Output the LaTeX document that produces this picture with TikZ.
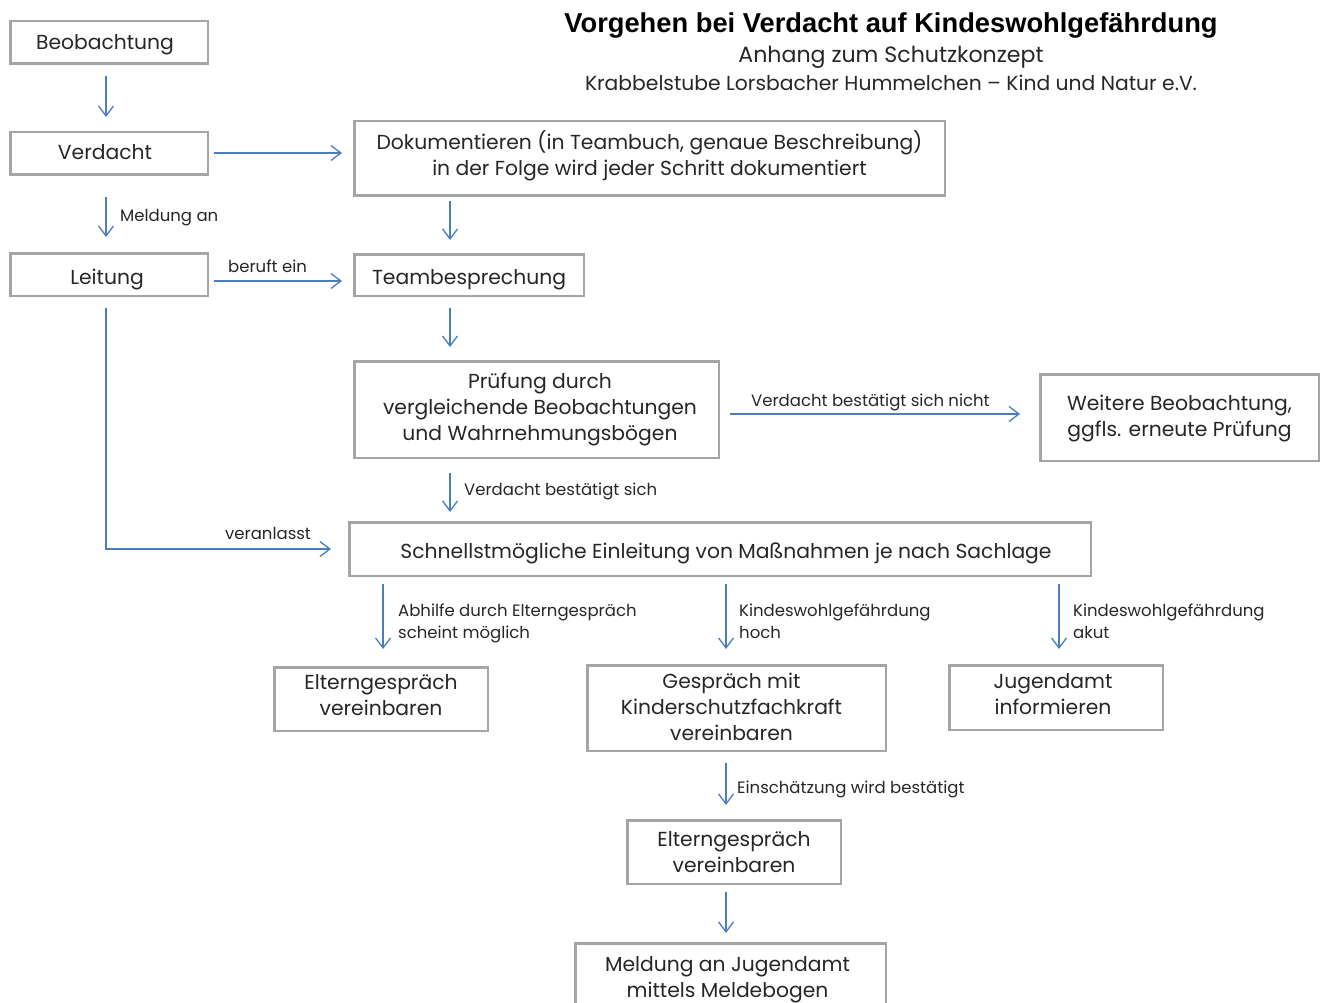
\documentclass[tikz,border=0pt]{standalone}
\usepackage{fontspec}
\setmainfont{Poppins}
\newfontfamily\titlefont{Liberation Sans}
\usetikzlibrary{arrows.meta,calc}
\definecolor{boxgray}{HTML}{A5A5A5}
\definecolor{arrblue}{HTML}{4A7EBB}
\begin{document}
\begin{tikzpicture}[x=1pt,y=-1pt,
  box/.style={draw=boxgray, line width=2.5pt, inner sep=0pt},
  btx/.style={align=center, inner sep=0pt, font=\fontsize{20.3}{26}\selectfont, text=black!85},
  lbl/.style={font=\fontsize{16.5}{21.5}\selectfont, inner sep=0pt, anchor=base west, align=left, text=black!85},
  arr/.style={draw=arrblue, line width=1.3pt, -{Straight Barb[length=10pt,width=15pt,line width=1.3pt]}}]
\useasboundingbox (0,0) rectangle (1322,1003);
\clip (0,0) rectangle (1322,1003);
% title
\node[font=\titlefont\bfseries\fontsize{27.3}{30}\selectfont, anchor=base, inner sep=0pt] (title) at (891,33) {Vorgehen bei Verdacht auf Kindeswohlgefährdung};
\node[font=\fontsize{22.1}{26}\selectfont, anchor=base, inner sep=0pt, text=black!85] (sub1) at (891,63) {Anhang zum Schutzkonzept};
\node[font=\fontsize{20.3}{26}\selectfont, anchor=base, inner sep=0pt, text=black!85] (sub2) at (891,91) {Krabbelstube Lorsbacher Hummelchen – Kind und Natur e.V.};
% boxes
\node[box, minimum width=197.5pt, minimum height=42.5pt, label={[btx,yshift=-2pt,xshift=-4pt]center:Beobachtung}] (beo) at (109,42.5) {};
\node[box, minimum width=197.5pt, minimum height=42.5pt, label={[btx,yshift=1pt,xshift=-4pt]center:Verdacht}] (ver) at (109,153.5) {};
\node[box, minimum width=197.5pt, minimum height=42.5pt, label={[btx,yshift=-5pt,xshift=-2pt]center:Leitung}] (lei) at (109,274.5) {};
\node[box, minimum width=590.5pt, minimum height=74.5pt, label={[btx,yshift=3pt]center:Dokumentieren (in Teambuch, genaue Beschreibung)\\in der Folge wird jeder Schritt dokumentiert}] (dok) at (649.5,158.5) {};
\node[box, minimum width=229.5pt, minimum height=41.5pt, label={[btx,yshift=-5pt]center:Teambesprechung}] (team) at (469,275) {};
\node[box, minimum width=364.5pt, minimum height=96.5pt, label={[btx,xshift=3.5pt]center:Prüfung durch\\vergleichende Beobachtungen\\und Wahrnehmungsbögen}] (pruef) at (536.5,409.5) {};
\node[box, minimum width=278.5pt, minimum height=86.5pt, label={[btx,yshift=-1pt]center:Weitere Beobachtung,\\ggfls. erneute Prüfung}] (weit) at (1179.5,417.5) {};
\node[box, minimum width=741.5pt, minimum height=53.5pt, label={[btx,yshift=-4pt,xshift=6pt]center:Schnellstmögliche Einleitung von Maßnahmen je nach Sachlage}] (schn) at (720,549) {};
\node[box, minimum width=213.5pt, minimum height=63.5pt, label={[btx,yshift=4pt]center:Elterngespräch\\vereinbaren}] (elt1) at (381,699) {};
\node[box, minimum width=298.5pt, minimum height=85.5pt, label={[btx,yshift=1pt,xshift=-5pt]center:Gespräch mit\\Kinderschutzfachkraft\\vereinbaren}] (gesp) at (736.5,708) {};
\node[box, minimum width=213.5pt, minimum height=64.5pt, label={[btx,yshift=3pt,xshift=-3pt]center:Jugendamt\\informieren}] (jug) at (1056,697.5) {};
\node[box, minimum width=213.5pt, minimum height=63.5pt, label={[btx]center:Elterngespräch\\vereinbaren}] (elt2) at (734,852) {};
\node[box, minimum width=310.5pt, minimum height=66.5pt, label={[btx,yshift=-3pt,xshift=-3pt]center:Meldung an Jugendamt\\mittels Meldebogen}] (meld) at (730.5,976.5) {};
% guide coordinates
\coordinate (xa) at (106,0);
\coordinate (xb) at (450,0);
\coordinate (xc) at (383,0);
\coordinate (xd) at (726,0);
\coordinate (xe) at (1059,0);
\coordinate (y1) at (0,153);
\coordinate (y2) at (0,281);
\coordinate (y3) at (0,414);
\coordinate (y4) at (0,549);
% arrows
\draw[arr, shorten <=11pt, shorten >=14pt] (beo.south -| xa) -- (ver.north -| xa);
\draw[arr, shorten <=5pt, shorten >=11pt] (ver.east |- y1) -- (dok.west |- y1);
\draw[arr, shorten <=21pt, shorten >=15pt] (ver.south -| xa) -- (lei.north -| xa);
\draw[arr, shorten <=5pt, shorten >=11pt] (lei.east |- y2) -- (team.west |- y2);
\draw[arr, shorten <=4pt, shorten >=13pt] (dok.south -| xb) -- (team.north -| xb);
\draw[arr, shorten <=11pt, shorten >=13pt] (team.south -| xb) -- (pruef.north -| xb);
\draw[arr, shorten <=10pt, shorten >=19pt] (pruef.east |- y3) -- (weit.west |- y3);
\draw[arr, shorten <=14pt, shorten >=9pt] (pruef.south -| xb) -- (schn.north -| xb);
\draw[arr, shorten <=11pt, shorten >=17pt] (lei.south -| xa) |- (schn.west |- y4);
\draw[arr, shorten <=7pt, shorten >=17pt] (schn.south -| xc) -- (elt1.north -| xc);
\draw[arr, shorten <=7pt, shorten >=15pt] (schn.south -| xd) -- (gesp.north -| xd);
\draw[arr, shorten <=7pt, shorten >=15pt] (schn.south -| xe) -- (jug.north -| xe);
\draw[arr, shorten <=11pt, shorten >=14pt] (gesp.south -| xd) -- (elt2.north -| xd);
\draw[arr, shorten <=7pt, shorten >=9pt] (elt2.south -| xd) -- (meld.north -| xd);
% labels
\node[lbl] (l1) at (120,222) {Meldung an};
\node[lbl] (l2) at (228,272) {beruft ein};
\node[lbl] (l3) at (751,406) {Verdacht bestätigt sich nicht};
\node[lbl] (l4) at (464,495) {Verdacht bestätigt sich};
\node[lbl] (l5) at (225,539) {veranlasst};
\node[lbl] (l6) at (398,638) {Abhilfe durch Elterngespräch\\scheint möglich};
\node[lbl] (l7) at (739,638) {Kindeswohlgefährdung\\hoch};
\node[lbl] (l8) at (1073,638) {Kindeswohlgefährdung\\akut};
\node[lbl] (l9) at (737,793) {Einschätzung wird bestätigt};
\end{tikzpicture}
\end{document}
